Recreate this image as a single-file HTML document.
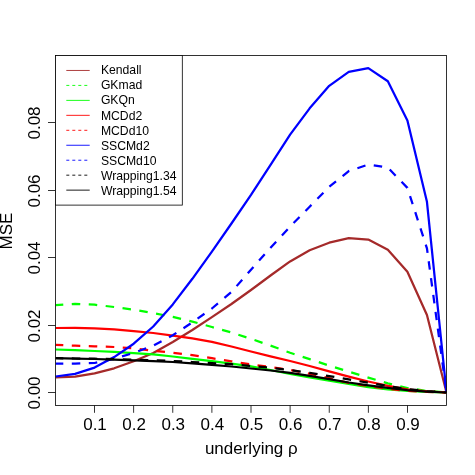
<!DOCTYPE html>
<html><head><meta charset="utf-8"><title>MSE</title>
<style>
html,body{margin:0;padding:0;background:#fff;}
body{width:475px;height:475px;overflow:hidden;}
svg{display:block;will-change:transform;}
text{font-family:"Liberation Sans",sans-serif;fill:#000;}
</style></head><body>
<svg width="475" height="475" viewBox="0 0 475 475">
<rect x="0" y="0" width="475" height="475" fill="#ffffff"/>
<defs><clipPath id="pc"><rect x="55.5" y="55.5" width="391" height="350"/></clipPath></defs>
<g clip-path="url(#pc)" fill="none" stroke-linejoin="round" stroke-linecap="butt">
<polyline points="55.50,377.50 75.05,376.70 94.60,373.30 114.15,368.30 133.70,361.30 153.25,353.00 172.80,342.00 192.35,330.00 211.90,317.10 231.45,304.00 251.00,290.00 270.55,275.50 290.10,261.40 309.65,250.30 329.20,242.70 348.75,238.20 368.30,239.60 387.85,249.80 407.40,271.80 426.95,315.00 446.50,392.50" stroke="#a52a2a" stroke-width="2.25"/>
<polyline points="55.50,305.10 75.05,303.80 94.60,304.70 114.15,307.00 133.70,309.70 153.25,313.20 172.80,316.80 192.35,321.60 211.90,327.00 231.45,332.50 251.00,338.80 270.55,345.60 290.10,352.80 309.65,359.10 329.20,365.60 348.75,371.60 368.30,377.60 387.85,383.30 407.40,388.00 426.95,391.00 446.50,392.30" stroke="#00ff00" stroke-width="2.25" stroke-dasharray="8.5 8.5" stroke-dashoffset="0.7"/>
<polyline points="55.50,349.50 75.05,350.20 94.60,351.00 114.15,351.80 133.70,353.10 153.25,354.40 172.80,356.50 192.35,358.80 211.90,361.10 231.45,363.60 251.00,366.30 270.55,370.00 290.10,374.00 309.65,377.40 329.20,380.60 348.75,384.00 368.30,387.20 387.85,389.50 407.40,391.00 426.95,391.90 446.50,392.50" stroke="#00ff00" stroke-width="2.25"/>
<polyline points="55.50,328.00 75.05,327.80 94.60,328.30 114.15,329.30 133.70,331.20 153.25,333.00 172.80,335.60 192.35,338.40 211.90,341.80 231.45,346.50 251.00,351.50 270.55,356.40 290.10,361.00 309.65,366.00 329.20,371.30 348.75,376.60 368.30,381.50 387.85,385.90 407.40,389.30 426.95,391.30 446.50,392.50" stroke="#ff0000" stroke-width="2.25"/>
<polyline points="55.50,344.90 75.05,345.70 94.60,346.40 114.15,347.00 133.70,348.30 153.25,350.70 172.80,352.80 192.35,355.20 211.90,358.20 231.45,361.30 251.00,364.50 270.55,367.00 290.10,369.90 309.65,373.80 329.20,378.20 348.75,382.90 368.30,386.10 387.85,388.80 407.40,390.80 426.95,391.90 446.50,392.50" stroke="#ff0000" stroke-width="2.25" stroke-dasharray="8.5 8.5" stroke-dashoffset="0.7"/>
<polyline points="55.50,376.50 75.05,373.90 94.60,367.60 114.15,357.10 133.70,343.70 153.25,326.50 172.80,304.40 192.35,278.80 211.90,251.60 231.45,223.50 251.00,194.90 270.55,164.80 290.10,134.60 309.65,108.30 329.20,85.80 348.75,71.90 368.30,68.10 387.85,81.30 407.40,120.50 426.95,201.80 446.50,392.50" stroke="#0000ff" stroke-width="2.25"/>
<polyline points="55.50,363.60 75.05,363.60 94.60,363.00 114.15,358.80 133.70,352.90 153.25,345.60 172.80,335.20 192.35,322.40 211.90,308.50 231.45,292.00 251.00,269.70 270.55,247.70 290.10,226.60 309.65,206.70 329.20,186.90 348.75,171.10 368.30,164.60 387.85,167.60 407.40,187.90 426.95,248.30 446.50,392.50" stroke="#0000ff" stroke-width="2.25" stroke-dasharray="8.5 8.5" stroke-dashoffset="0.7"/>
<polyline points="55.50,358.20 75.05,358.50 94.60,358.70 114.15,359.10 133.70,359.60 153.25,360.20 172.80,361.00 192.35,362.00 211.90,363.00 231.45,364.20 251.00,365.90 270.55,367.80 290.10,370.10 309.65,372.90 329.20,376.10 348.75,379.40 368.30,382.80 387.85,386.00 407.40,389.00 426.95,391.10 446.50,392.50" stroke="#000000" stroke-width="2.25" stroke-dasharray="8.5 8.5" stroke-dashoffset="0.7"/>
<polyline points="55.50,358.20 75.05,358.60 94.60,359.00 114.15,359.60 133.70,360.30 153.25,361.10 172.80,362.00 192.35,363.30 211.90,364.80 231.45,366.50 251.00,368.50 270.55,370.50 290.10,372.90 309.65,375.80 329.20,379.10 348.75,382.50 368.30,385.30 387.85,387.90 407.40,390.20 426.95,391.60 446.50,392.50" stroke="#000000" stroke-width="2.25"/>
</g>
<g fill="none" stroke="#000" stroke-width="0.8">
<rect x="55.5" y="55.5" width="391" height="350"/>
<line x1="94.50" y1="405.5" x2="94.50" y2="412.8"/>
<line x1="133.62" y1="405.5" x2="133.62" y2="412.8"/>
<line x1="172.75" y1="405.5" x2="172.75" y2="412.8"/>
<line x1="211.88" y1="405.5" x2="211.88" y2="412.8"/>
<line x1="251.00" y1="405.5" x2="251.00" y2="412.8"/>
<line x1="290.12" y1="405.5" x2="290.12" y2="412.8"/>
<line x1="329.25" y1="405.5" x2="329.25" y2="412.8"/>
<line x1="368.38" y1="405.5" x2="368.38" y2="412.8"/>
<line x1="407.50" y1="405.5" x2="407.50" y2="412.8"/>
<line x1="48.0" y1="392.50" x2="55.5" y2="392.50"/>
<line x1="48.0" y1="325.50" x2="55.5" y2="325.50"/>
<line x1="48.0" y1="257.50" x2="55.5" y2="257.50"/>
<line x1="48.0" y1="190.50" x2="55.5" y2="190.50"/>
<line x1="48.0" y1="122.50" x2="55.5" y2="122.50"/>
</g>
<g font-size="17px">
<text x="95.00" y="430.3" text-anchor="middle">0.1</text>
<text x="134.12" y="430.3" text-anchor="middle">0.2</text>
<text x="173.25" y="430.3" text-anchor="middle">0.3</text>
<text x="212.38" y="430.3" text-anchor="middle">0.4</text>
<text x="251.50" y="430.3" text-anchor="middle">0.5</text>
<text x="290.62" y="430.3" text-anchor="middle">0.6</text>
<text x="329.75" y="430.3" text-anchor="middle">0.7</text>
<text x="368.88" y="430.3" text-anchor="middle">0.8</text>
<text x="408.00" y="430.3" text-anchor="middle">0.9</text>
<text transform="translate(39.9,393.00) rotate(-90)" text-anchor="middle">0.00</text>
<text transform="translate(39.9,326.00) rotate(-90)" text-anchor="middle">0.02</text>
<text transform="translate(39.9,258.00) rotate(-90)" text-anchor="middle">0.04</text>
<text transform="translate(39.9,191.00) rotate(-90)" text-anchor="middle">0.06</text>
<text transform="translate(39.9,123.00) rotate(-90)" text-anchor="middle">0.08</text>
<text x="251.3" y="453.5" text-anchor="middle">underlying ρ</text>
<text transform="translate(12.0,231.0) rotate(-90)" text-anchor="middle">MSE</text>
</g>
<rect x="55.5" y="55.5" width="126.8" height="149.6" fill="#fff" stroke="#000" stroke-width="0.8"/>
<g font-size="12.2px">
<line x1="66.3" y1="70.46" x2="89.7" y2="70.46" stroke="#a52a2a" stroke-width="0.9"/>
<text x="100.9" y="74.36">Kendall</text>
<line x1="66.3" y1="85.42" x2="89.7" y2="85.42" stroke="#00ff00" stroke-width="0.9" stroke-dasharray="3 3"/>
<text x="100.9" y="89.42">GKmad</text>
<line x1="66.3" y1="100.38" x2="89.7" y2="100.38" stroke="#00ff00" stroke-width="0.9"/>
<text x="100.9" y="104.48">GKQn</text>
<line x1="66.3" y1="115.34" x2="89.7" y2="115.34" stroke="#ff0000" stroke-width="0.9"/>
<text x="100.9" y="119.54">MCDd2</text>
<line x1="66.3" y1="130.30" x2="89.7" y2="130.30" stroke="#ff0000" stroke-width="0.9" stroke-dasharray="3 3"/>
<text x="100.9" y="134.60">MCDd10</text>
<line x1="66.3" y1="145.26" x2="89.7" y2="145.26" stroke="#0000ff" stroke-width="0.9"/>
<text x="100.9" y="149.66">SSCMd2</text>
<line x1="66.3" y1="160.22" x2="89.7" y2="160.22" stroke="#0000ff" stroke-width="0.9" stroke-dasharray="3 3"/>
<text x="100.9" y="164.72">SSCMd10</text>
<line x1="66.3" y1="175.18" x2="89.7" y2="175.18" stroke="#000000" stroke-width="0.9" stroke-dasharray="3 3"/>
<text x="100.9" y="179.78">Wrapping1.34</text>
<line x1="66.3" y1="190.14" x2="89.7" y2="190.14" stroke="#000000" stroke-width="0.9"/>
<text x="100.9" y="194.84">Wrapping1.54</text>
</g>
</svg></body></html>
